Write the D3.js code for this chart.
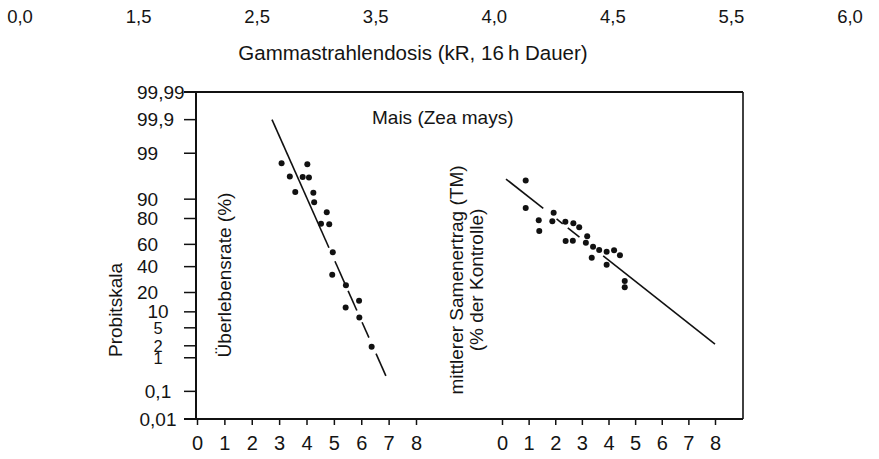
<!DOCTYPE html>
<html>
<head>
<meta charset="utf-8">
<script src="https://cdn.jsdelivr.net/npm/d3@7"></script>
<style>
  body { margin: 0; background: #fff; }
  svg text { font-family: "Liberation Sans", Arial, sans-serif; fill: #141414; }
</style>
</head>
<body>
<svg id="chart" width="879" height="459"></svg>
<script>
// stray scale numbers printed along the top of the scan
const topLabels = ['0,0', '1,5', '2,5', '3,5', '4,0', '4,5', '5,5', '6,0'];

const probitTicks = [0.01, 0.1, 1, 2, 5, 10, 20, 40, 60, 80, 90, 99, 99.9, 99.99];
const doseTicks = [0, 1, 2, 3, 4, 5, 6, 7, 8];

// Überlebensrate (%) vs. dose (kR)
const survivalDose = [3.09, 4.03, 3.39, 3.86, 4.09, 3.59, 4.25, 4.28, 4.74, 4.53, 4.83, 4.96, 4.94, 5.44, 5.43, 5.92, 5.93, 6.38];
const survivalPct = [98.2, 98.1, 96.4, 96.3, 96.2, 92.6, 92.3, 88.7, 83.7, 76.5, 76.1, 52.9, 33.1, 24.9, 11.8, 15.2, 7.9, 1.9];
const survivalFit = [[2.74, 99.9], [6.90, 0.31]];
const survivalFitDrawn = [[2.74, 4.82], [5.04, 5.41], [5.52, 5.84], [6.03, 6.28], [6.54, 6.90]];

// mittlerer Samenertrag (% der Kontrolle) vs. dose (kR)
const yieldDose = [0.89, 0.89, 1.38, 1.40, 1.94, 1.89, 2.38, 2.68, 2.90, 2.39, 2.66, 3.20, 3.15, 3.42, 3.65, 3.93, 4.21, 4.43, 3.37, 3.93, 4.61, 4.61];
const yieldPct = [95.6, 86.0, 78.8, 71.1, 83.5, 78.2, 77.9, 76.8, 73.9, 62.9, 63.2, 66.9, 61.5, 57.9, 55.0, 53.4, 54.7, 50.2, 48.0, 41.7, 28.1, 23.5];
const yieldFit = [[0.15, 95.9], [8.0, 2.2]];
const yieldFitDrawn = [[0.15, 1.55], [2.05, 2.28], [2.47, 2.91], [3.80, 8.0]];

// inverse normal cdf (Acklam)
function probit(p) {
  const a = [-3.969683028665376e+01, 2.209460984245205e+02, -2.759285104469687e+02, 1.383577518672690e+02, -3.066479806614716e+01, 2.506628277459239e+00];
  const b = [-5.447609879822406e+01, 1.615858368580409e+02, -1.556989798598866e+02, 6.680131188771972e+01, -1.328068155288572e+01];
  const c = [-7.784894002430293e-03, -3.223964580411365e-01, -2.400758277161838e+00, -2.549732539343734e+00, 4.374664141464968e+00, 2.938163982698783e+00];
  const d = [7.784695709041462e-03, 3.224671290700398e-01, 2.445134137142996e+00, 3.754408661907416e+00];
  const tail = q => (((((c[0] * q + c[1]) * q + c[2]) * q + c[3]) * q + c[4]) * q + c[5]) / ((((d[0] * q + d[1]) * q + d[2]) * q + d[3]) * q + 1);
  if (p < 0.02425) return tail(Math.sqrt(-2 * Math.log(p)));
  if (p > 1 - 0.02425) return -tail(Math.sqrt(-2 * Math.log(1 - p)));
  const q = p - 0.5, r = q * q;
  return (((((a[0] * r + a[1]) * r + a[2]) * r + a[3]) * r + a[4]) * r + a[5]) * q /
    (((((b[0] * r + b[1]) * r + b[2]) * r + b[3]) * r + b[4]) * r + 1);
}

const svg = d3.select('#chart');
const zMax = probit(0.9999);
const yZ = d3.scaleLinear().domain([-zMax, zMax]).range([419, 92]);
const y = pct => yZ(probit(pct / 100));
const xLeft = d3.scaleLinear().domain([0, 8]).range([197, 416]);
const xRight = d3.scaleLinear().domain([0, 8]).range([502, 715]);
const deFormat = d3.formatLocale({ decimal: ',', thousands: '.', grouping: [3], currency: ['', ' €'] }).format('~g');

const frameLeft = 196, frameRight = 743, frameTop = y(99.99), frameBottom = y(0.01);

// top stray numbers
const topX = d3.scalePoint().domain(topLabels).range([20, 850]);
svg.append('g').selectAll('text')
  .data(topLabels)
  .enter().append('text')
  .attr('x', d => topX(d))
  .attr('y', 23)
  .attr('text-anchor', 'middle')
  .attr('font-size', '18.5px')
  .text(d => d);

svg.append('text')
  .attr('x', 413).attr('y', 60)
  .attr('text-anchor', 'middle')
  .attr('font-size', '20.5px')
  .text('Gammastrahlendosis (kR, 16\u2009h Dauer)');

// frame
const frame = svg.append('g').attr('stroke', '#111').attr('fill', 'none');
frame.append('line').attr('x1', frameLeft).attr('x2', frameLeft).attr('y1', frameTop).attr('y2', frameBottom).attr('stroke-width', 2);
frame.append('line').attr('x1', 184).attr('x2', frameRight).attr('y1', frameTop).attr('y2', frameTop).attr('stroke-width', 2);
frame.append('line').attr('x1', 184).attr('x2', frameRight).attr('y1', frameBottom).attr('y2', frameBottom).attr('stroke-width', 2);
frame.append('line').attr('x1', frameRight).attr('x2', frameRight).attr('y1', frameTop).attr('y2', frameBottom).attr('stroke-width', 1.6);

// probit axis
const yTicks = svg.append('g');
yTicks.selectAll('line')
  .data(probitTicks)
  .enter().append('line')
  .attr('x1', 184).attr('x2', frameLeft)
  .attr('y1', d => y(d)).attr('y2', d => y(d))
  .attr('stroke', '#111').attr('stroke-width', 1.5);
yTicks.selectAll('text')
  .data(probitTicks)
  .enter().append('text')
  .attr('x', d => d >= 20 ? 137 : 158)
  .attr('y', d => y(d))
  .attr('dy', '0.35em')
  .attr('text-anchor', d => d >= 20 ? 'start' : 'middle')
  .attr('font-size', d => d >= 1 && d <= 5 ? '16.5px' : '19px')
  .text(d => deFormat(d));

// dose axes
[xLeft, xRight].forEach(sc => {
  const g = svg.append('g')
    .attr('transform', `translate(0,${frameBottom})`)
    .call(d3.axisBottom(sc).tickValues(doseTicks).tickSize(6).tickPadding(11).tickFormat(d3.format('d')));
  g.select('.domain').remove();
  g.selectAll('.tick line').attr('stroke', '#111').attr('stroke-width', 1.5);
  g.selectAll('.tick text').attr('font-size', '20px').attr('fill', '#141414')
    .attr('font-family', '"Liberation Sans", Arial, sans-serif');
});

function drawFit(sc, fit, pieces) {
  const z0 = probit(fit[0][1] / 100), z1 = probit(fit[1][1] / 100);
  const zAt = v => z0 + (v - fit[0][0]) * (z1 - z0) / (fit[1][0] - fit[0][0]);
  const line = d3.line().x(v => sc(v)).y(v => yZ(zAt(v)));
  svg.append('g').selectAll('path')
    .data(pieces)
    .enter().append('path')
    .attr('d', d => line(d))
    .attr('fill', 'none')
    .attr('stroke', '#111')
    .attr('stroke-width', 1.6);
}

function drawDots(sc, xs, ps) {
  svg.append('g').selectAll('circle')
    .data(xs.map((v, i) => [v, ps[i]]))
    .enter().append('circle')
    .attr('cx', d => sc(d[0]))
    .attr('cy', d => y(d[1]))
    .attr('r', 3)
    .attr('fill', '#111');
}

drawFit(xLeft, survivalFit, survivalFitDrawn);
drawDots(xLeft, survivalDose, survivalPct);
drawFit(xRight, yieldFit, yieldFitDrawn);
drawDots(xRight, yieldDose, yieldPct);

svg.append('text')
  .attr('x', 372).attr('y', 124)
  .attr('font-size', '19px')
  .text('Mais (Zea mays)');

function vText(x, yc, txt) {
  svg.append('text')
    .attr('transform', `translate(${x},${yc}) rotate(-90)`)
    .attr('text-anchor', 'middle')
    .attr('font-size', '19px')
    .text(txt);
}
vText(122, 310, 'Probitskala');
vText(231, 275, 'Überlebensrate (%)');
vText(463, 280, 'mittlerer Samenertrag (TM)');
vText(483, 280, '(% der Kontrolle)');
</script>
</body>
</html>
